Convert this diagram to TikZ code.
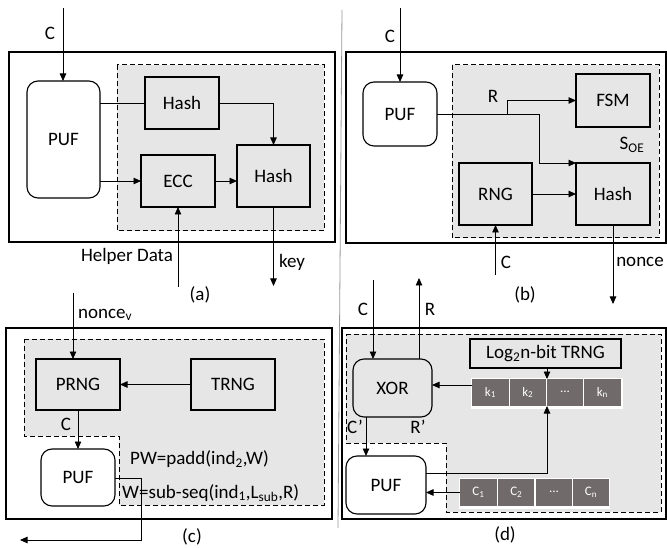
\documentclass[tikz,border=0pt]{standalone}
\usepackage{fontspec}
\setmainfont{Carlito}
\usetikzlibrary{arrows.meta}
\definecolor{bggray}{RGB}{230,230,230}
\definecolor{cellgray}{RGB}{112,106,106}
\definecolor{sepgray}{RGB}{150,150,150}
\begin{document}
\begin{tikzpicture}[x=1pt,y=-1pt,
  font=\fontsize{19}{22}\selectfont,
  blk/.style={draw, line width=1.1pt, fill=bggray, inner sep=0pt, outer sep=0pt},
  rbox/.style={draw, line width=1.1pt, rounded corners=11pt, fill=white, inner sep=0pt, outer sep=0pt},
  frame/.style={draw, line width=1.1pt},
  region/.style={draw, line width=1pt, fill=bggray, dash pattern=on 5pt off 3pt},
  conn/.style={line width=0.8pt},
  arr/.style={conn, -{Triangle[length=7.5pt,width=6.5pt]}},
  cell/.style={fill=cellgray, text=white, inner sep=0pt, outer sep=0pt, minimum width=36.3pt, minimum height=27pt, font=\fontsize{13}{15}\selectfont},
  lbl/.style={inner sep=0pt}
]
\useasboundingbox (0,0) rectangle (667,548);

% separator
\draw[sepgray, line width=0.8pt] (342,10) -- (338,528);

% ---------------- (a) ----------------
\draw[frame] (9,52) rectangle (335,242);
\draw[region] (117,65) rectangle (324,231);
\node[rbox, minimum width=73pt, minimum height=117pt] (pufa) at (63.5,139.5) {PUF};
\node[blk, minimum width=74pt, minimum height=52pt] (hasha) at (182,103) {Hash};
\node[blk, minimum width=74pt, minimum height=52pt] (ecc) at (178,181) {ECC};
\node[blk, minimum width=73pt, minimum height=62pt] (hashb) at (273.5,176) {Hash};
\coordinate (ca) at (63,8);
\draw[arr] (ca) -- (ca |- pufa.north);
\node[lbl] (lca) at (50,33) {C};
\draw[conn] (pufa.east |- hasha.west) -- (hasha.west);
\draw[arr] (hasha.east) -| (hashb.north);
\draw[arr] (pufa.east |- ecc.west) -- (ecc.west);
\draw[arr] (ecc.east) -- (ecc.east -| hashb.west);
\coordinate (hda) at (178,287);
\draw[arr] (hda) -- (hda |- ecc.south);
\node[lbl] (lhd) at (127,256) {Helper Data};
\coordinate (keya) at (273.5,286);
\draw[arr] (hashb.south) -- (keya);
\node[lbl] (lkey) at (292,262) {key};
\node[lbl] (capa) at (200,295) {(a)};

% ---------------- (b) ----------------
\draw[frame] (346,52) rectangle (666,243);
\draw[region] (452,65) rectangle (659,238);
\node[rbox, minimum width=74pt, minimum height=64pt] (pufb) at (400,114) {PUF};
\node[blk, minimum width=74pt, minimum height=53pt] (fsm) at (613,100.5) {FSM};
\node[blk, minimum width=73pt, minimum height=62pt] (rng) at (495.5,194) {RNG};
\node[blk, minimum width=74pt, minimum height=62pt] (hashc) at (613,194) {Hash};
\coordinate (cb) at (400,8);
\draw[arr] (cb) -- (pufb.north);
\node[lbl] (lcb) at (390,36) {C};
\coordinate (bend) at (539,114);
\draw[arr] (pufb.east) -- (bend) |- (hashc.north west);
\coordinate (split) at (507,114);
\draw[arr] (split) |- (fsm.west);
\node[lbl] (lr) at (493,96) {R};
\draw[arr] (rng.east) -- (hashc.west);
\coordinate (cb2) at (495.5,275);
\draw[arr] (cb2) -- (rng.south);
\node[lbl] (lcb2) at (506,262) {C};
\coordinate (nonceb) at (613,304);
\draw[arr] (hashc.south) -- (nonceb);
\node[lbl] (lnonce) at (640,262) {nonce};
\node[lbl] (lsoe) at (632,145) {S\textsubscript{OE}};
\node[lbl] (capb) at (525,295) {(b)};

% ---------------- (c) ----------------
\draw[frame] (6,328) rectangle (332,519);
\draw[region] (24,339) -- (324,339) -- (324,505) -- (119,505) -- (119,436) -- (24,436) -- cycle;
\node[blk, minimum width=84pt, minimum height=51pt] (prng) at (78,384.5) {PRNG};
\node[blk, minimum width=84pt, minimum height=51pt] (trng) at (233,384.5) {TRNG};
\draw[arr] (trng.west) -- (prng.east);
\coordinate (nv) at (73,293);
\draw[arr] (nv) -- (nv |- prng.north);
\node[lbl, anchor=west] (lnv) at (78,315) {nonce\textsubscript{v}};
\node[rbox, minimum width=74pt, minimum height=57pt] (pufc) at (78,477.5) {PUF};
\draw[arr] (prng.south) -- (pufc.north);
\node[lbl] (lcc) at (66,424) {C};
\coordinate (outc) at (20,540);
\draw[arr] (pufc.east |- 0,478) -- (141,478) -- (141,540) -- (outc);
\node[lbl, anchor=west] (lpw) at (130,459) {PW=padd(ind\textsubscript{2},W)};
\node[lbl, anchor=west] (lw) at (122,493) {W=sub-seq(ind\textsubscript{1},L\textsubscript{sub},R)};
\node[lbl] (capc) at (192,537) {(c)};

% ---------------- (d) ----------------
\draw[frame] (342,328) rectangle (666,519);
\draw[region] (346,334) -- (661,334) -- (661,512) -- (446,512) -- (446,443) -- (346,443) -- cycle;
\node[rbox, fill=bggray, minimum width=79pt, minimum height=58pt] (xor) at (392.5,388) {XOR};
\coordinate (cd) at (373,280);
\draw[arr] (cd) -- (cd |- xor.north);
\node[lbl] (lcd) at (363,309) {C};
\coordinate (rd) at (419,278);
\draw[arr] (rd |- xor.north) -- (rd);
\node[lbl] (lrd) at (430,309) {R};
\node[blk, minimum width=151pt, minimum height=29pt] (trngd) at (545.5,353.5) {Log\textsubscript{2}n-bit TRNG};
% k row
\fill[white] (470.5,377.5) rectangle (622.5,409);
\node[cell] (k1) at (490.5,392.5) {k\textsubscript{1}};
\node[cell] (k2) at (527.8,392.5) {k\textsubscript{2}};
\node[cell] (k3) at (565.1,392.5) {\raisebox{0.3ex}{...}};
\node[cell] (k4) at (602.4,392.5) {k\textsubscript{n}};
\coordinate (kt) at (547,379);
\coordinate (kb) at (547,406);
\draw[arr] (kt |- trngd.south) -- (kt);
\draw[arr] (k1.west |- 0,385) -- (xor.east |- 0,385);
\node[rbox, minimum width=80pt, minimum height=58pt] (pufd) at (386,485) {PUF};
\draw[arr] (366,0 |- xor.south) -- (366,0 |- pufd.north);
\node[lbl] (lcp) at (355,427) {C’};
\node[lbl] (lrp) at (418,427) {R’};
\draw[arr] (pufd.east |- 0,473) -- (547,473) -- (kb);
% c row
\fill[white] (459,478) rectangle (610,509);
\node[cell] (c1) at (478.5,492.5) {C\textsubscript{1}};
\node[cell] (c2) at (516.3,492.5) {C\textsubscript{2}};
\node[cell] (c3) at (554.1,492.5) {\raisebox{0.3ex}{...}};
\node[cell] (c4) at (591,492.5) {C\textsubscript{n}};
\draw[arr] (c1.west) -- (c1.west -| pufd.east);
\node[lbl] (capd) at (505,535) {(d)};
\end{tikzpicture}
\end{document}
